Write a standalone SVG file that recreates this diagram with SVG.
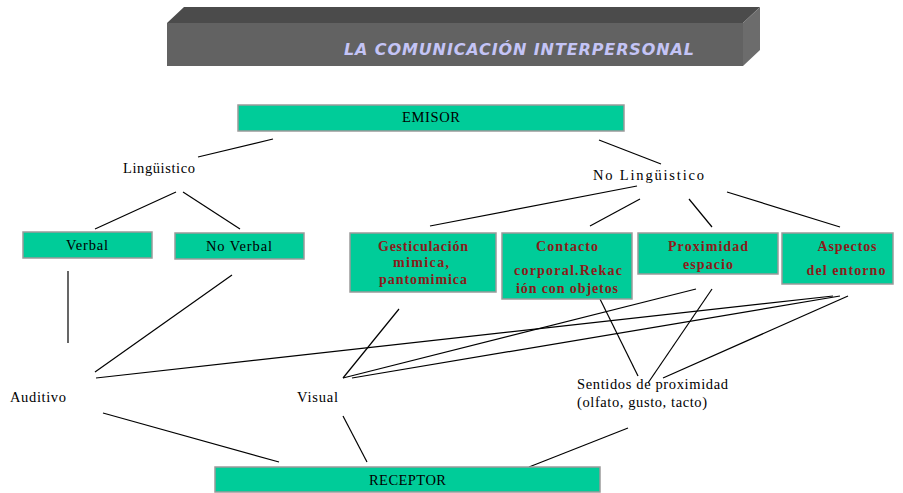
<svg xmlns="http://www.w3.org/2000/svg" width="903" height="493" viewBox="0 0 903 493">
<style>
.box{fill:#00cc99;stroke:#9a9a9a;stroke-width:1.5}
.t{font-family:"Liberation Serif",serif;font-size:14.5px;fill:#000}
.b{font-family:"Liberation Serif",serif;font-size:14px;font-weight:bold;fill:#8b1a1a;text-anchor:middle}
#connectors line{stroke:#000;stroke-width:1.2}
</style>
<rect width="903" height="493" fill="#fff"/>
<g id="header">
<polygon points="167,23 184,7 760,7 743,23" fill="#4b4b4b"/>
<polygon points="743,23 760,7 760,50 743,66" fill="#6c6c6c"/>
<rect x="167" y="23" width="576" height="43" fill="#626262"/>
<text x="344" y="55" textLength="350" lengthAdjust="spacing" font-family="DejaVu Sans,sans-serif" font-size="16" font-weight="bold" font-style="italic" fill="#c4c4f6">LA COMUNICACIÓN INTERPERSONAL</text>
</g>
<g id="connectors">
<line x1="273" y1="139" x2="198" y2="157"/>
<line x1="599" y1="140" x2="661" y2="164"/>
<line x1="176" y1="192" x2="95" y2="229"/>
<line x1="183" y1="192" x2="240" y2="229"/>
<line x1="637" y1="186" x2="430" y2="226"/>
<line x1="640" y1="199" x2="590" y2="226"/>
<line x1="689" y1="199" x2="712" y2="227"/>
<line x1="727" y1="192" x2="840" y2="227"/>
<line x1="68" y1="271" x2="68" y2="343"/>
<line x1="232" y1="275" x2="95" y2="372"/>
<line x1="399" y1="309" x2="343" y2="378"/>
<line x1="343" y1="378" x2="696" y2="289"/>
<line x1="352" y1="378" x2="840" y2="296"/>
<line x1="96" y1="378" x2="833" y2="296"/>
<line x1="600" y1="299" x2="638" y2="376"/>
<line x1="712" y1="289" x2="648" y2="383"/>
<line x1="848" y1="296" x2="663" y2="378"/>
<line x1="103" y1="413" x2="279" y2="462"/>
<line x1="343" y1="416" x2="367" y2="462"/>
<line x1="628" y1="428" x2="529" y2="467"/>
</g>
<g id="emisor">
<rect class="box" x="238" y="105" width="386" height="26"/>
<text class="t" x="402" y="122" font-size="13" textLength="58" lengthAdjust="spacing">EMISOR</text>
</g>
<g id="linguistico">
<text class="t" x="123" y="173" textLength="72" lengthAdjust="spacing">Lingüistico</text>
</g>
<g id="no-linguistico">
<text class="t" x="593" y="180" font-size="16" fill="#8b1a1a" textLength="111" lengthAdjust="spacing">No Lingüistico</text>
</g>
<g id="verbal">
<rect class="box" x="23" y="232" width="129" height="26"/>
<text class="t" x="66" y="250" textLength="42" lengthAdjust="spacing">Verbal</text>
</g>
<g id="no-verbal">
<rect class="box" x="175" y="233" width="129" height="26"/>
<text class="t" x="206" y="251" textLength="66" lengthAdjust="spacing">No Verbal</text>
</g>
<g id="gesticulacion">
<rect class="box" x="350" y="233" width="146" height="59"/>
<text class="b" x="423" y="251" textLength="90" lengthAdjust="spacing">Gesticulación</text>
<text class="b" x="421" y="267" textLength="56" lengthAdjust="spacing">mimica,</text>
<text class="b" x="423" y="284" textLength="88" lengthAdjust="spacing">pantomimica</text>
</g>
<g id="contacto">
<rect class="box" x="502" y="233" width="130" height="66"/>
<text class="b" x="567" y="251" textLength="62" lengthAdjust="spacing">Contacto</text>
<text class="b" x="568" y="275" textLength="108" lengthAdjust="spacing">corporal.Rekac</text>
<text class="b" x="567" y="293" textLength="102" lengthAdjust="spacing">ión con objetos</text>
</g>
<g id="proximidad">
<rect class="box" x="638" y="233" width="140" height="41"/>
<text class="b" x="708" y="251" textLength="80" lengthAdjust="spacing">Proximidad</text>
<text class="b" x="708" y="269" textLength="50" lengthAdjust="spacing">espacio</text>
</g>
<g id="aspectos">
<rect class="box" x="782" y="233" width="111" height="51"/>
<text class="b" x="847" y="251" textLength="59" lengthAdjust="spacing">Aspectos</text>
<text class="b" x="846" y="275" textLength="79" lengthAdjust="spacing">del entorno</text>
</g>
<g id="auditivo">
<text class="t" x="10" y="402" textLength="56" lengthAdjust="spacing">Auditivo</text>
</g>
<g id="visual">
<text class="t" x="297" y="402" textLength="41" lengthAdjust="spacing">Visual</text>
</g>
<g id="sentidos">
<text class="t" x="577" y="389" textLength="151" lengthAdjust="spacing">Sentidos de proximidad</text>
<text class="t" x="577" y="407" textLength="130" lengthAdjust="spacing">(olfato, gusto, tacto)</text>
</g>
<g id="receptor">
<rect class="box" x="215" y="467" width="385" height="25"/>
<text class="t" x="369" y="485" font-size="13" textLength="77" lengthAdjust="spacing">RECEPTOR</text>
</g>
</svg>
